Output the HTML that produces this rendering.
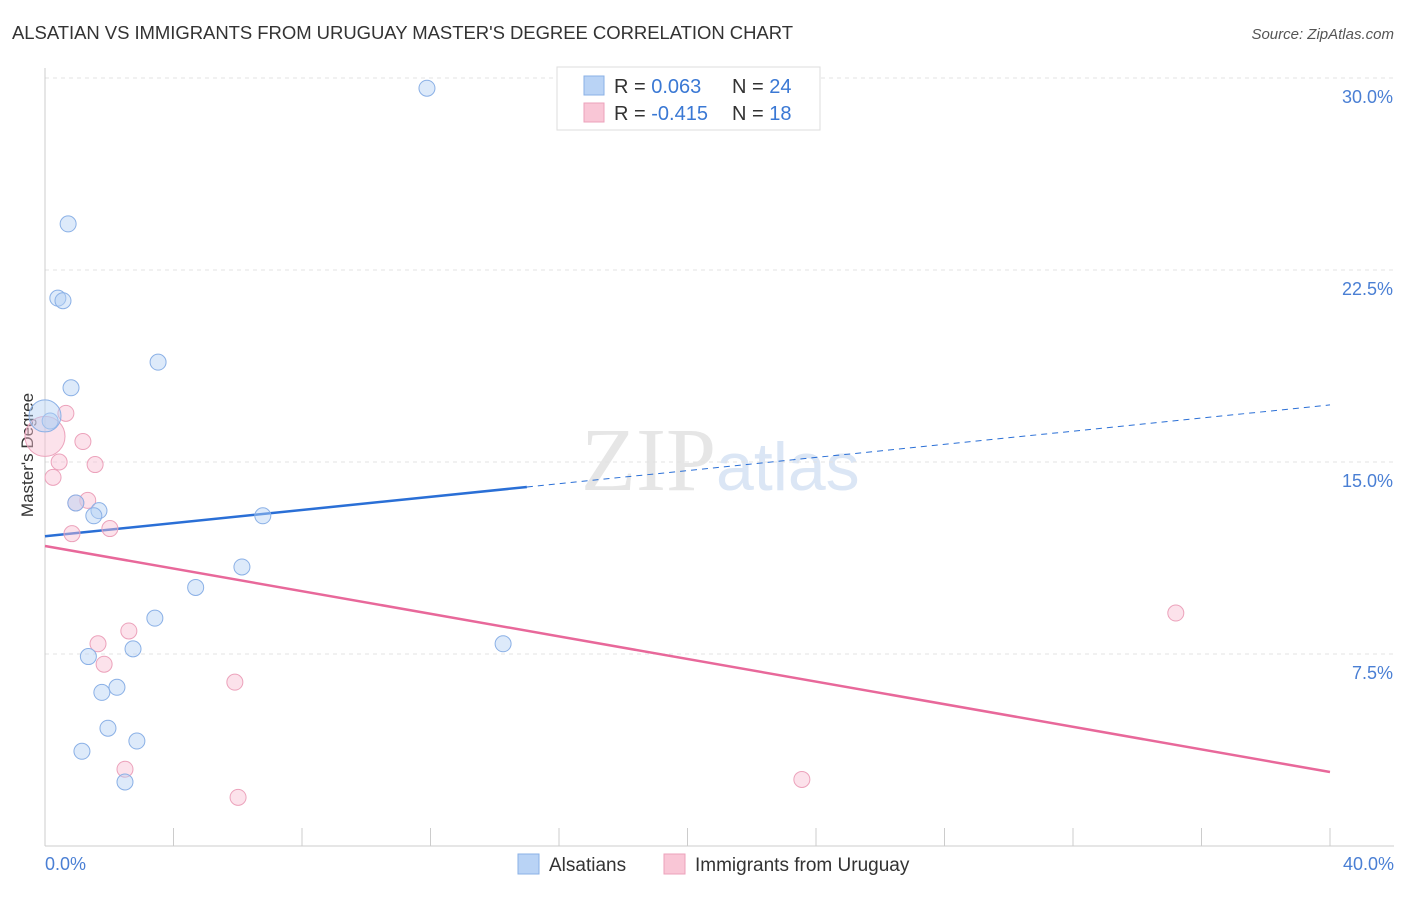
<!DOCTYPE html>
<html><head><meta charset="utf-8"><style>
body{margin:0;background:#fff;font-family:"Liberation Sans",sans-serif}
</style></head><body>
<svg width="1406" height="892" xmlns="http://www.w3.org/2000/svg">
<text x="12" y="39" font-size="18.5" fill="#333" textLength="781">ALSATIAN VS IMMIGRANTS FROM URUGUAY MASTER'S DEGREE CORRELATION CHART</text>
<text x="1394" y="39" font-size="15" fill="#555" text-anchor="end" font-style="italic">Source: ZipAtlas.com</text>
<text x="716" y="490" font-size="90" fill="#e6e6e6" text-anchor="end" font-family="Liberation Serif">ZIP</text>
<text x="716" y="490" font-size="68" fill="#dbe6f5">atlas</text>
<g id="grid"></g>
<line x1="45" y1="68" x2="45" y2="846" stroke="#ccc"/>
<line x1="45" y1="846" x2="1394" y2="846" stroke="#ccc"/>
<text x="33" y="455" font-size="17" fill="#333" text-anchor="middle" transform="rotate(-90 33 455)">Master's Degree</text>
<text x="45" y="870" font-size="18" fill="#4a7fd4">0.0%</text>
<text x="1394" y="870" font-size="18" fill="#4a7fd4" text-anchor="end">40.0%</text>
<g id="lines"></g>
<g id="pts"></g>
<g>
<rect x="557" y="67" width="263" height="63" fill="#fff" stroke="#ddd"/>
<rect x="584" y="76" width="20" height="19" fill="#b9d3f5" stroke="#8ab0e6"/>
<rect x="584" y="103" width="20" height="19" fill="#f9c6d6" stroke="#eca2bb"/>
<text x="614" y="93" font-size="20" fill="#333">R = <tspan fill="#3a78d4">0.063</tspan><tspan x="732">N = </tspan><tspan fill="#3a78d4">24</tspan></text>
<text x="614" y="120" font-size="20" fill="#333">R = <tspan fill="#3a78d4">-0.415</tspan><tspan x="732">N = </tspan><tspan fill="#3a78d4"> 18</tspan></text>
</g>
<g>
<rect x="518" y="854" width="21" height="20" fill="#b9d3f5" stroke="#8ab0e6"/>
<text x="549" y="871" font-size="19" fill="#333">Alsatians</text>
<rect x="664" y="854" width="21" height="20" fill="#f9c6d6" stroke="#eca2bb"/>
<text x="695" y="871" font-size="19" fill="#333">Immigrants from Uruguay</text>
</g>
</svg>
<script>
const yTicks=[7.5,15,22.5,30];
const xTicks=[0,4,8,12,16,20,24,28,32,36,40];
const blueX=[11.89,0.72,0.4,0.56,3.52,0.81,0.16,0.0,0.96,1.68,1.52,6.78,6.13,4.69,3.42,14.26,1.35,2.74,2.24,1.77,1.96,2.86,1.15,2.49];
const blueY=[29.6,24.3,21.4,21.3,18.9,17.9,16.6,16.8,13.4,13.1,12.9,12.9,10.9,10.1,8.9,7.9,7.4,7.7,6.2,6.0,4.6,4.1,3.7,2.5];
const pinkX=[0.0,0.65,1.18,0.44,1.56,0.25,1.33,0.96,0.84,2.02,2.61,1.65,1.84,5.91,35.2,2.49,23.56,6.01];
const pinkY=[16.0,16.9,15.8,15.0,14.9,14.4,13.5,13.4,12.2,12.4,8.4,7.9,7.1,6.4,9.1,3.0,2.6,1.9];
const X=v=>45+v/40*1285, Y=v=>846-v/7.5*192;
const ns="http://www.w3.org/2000/svg";
function mk(t,a,p){const e=document.createElementNS(ns,t);for(const k in a)e.setAttribute(k,a[k]);document.getElementById(p).appendChild(e);return e;}
yTicks.forEach(v=>{
const l=mk('line',{x1:45,x2:1394,y1:Y(v),y2:Y(v),stroke:'#e3e3e3','stroke-dasharray':'4,4'},'grid');


const t=mk('text',{x:1393,y:Y(v)+25,'font-size':18,fill:'#4a7fd4','text-anchor':'end'},'grid');t.textContent=v.toFixed(1)+'%';


});
xTicks.forEach(v=>{
const l=mk('line',{x1:X(v),x2:X(v),y1:828,y2:846,stroke:'#ccc'},'grid');


});
const bl=[12.1,(17.23-12.1)/40];
const pl=[11.72,(2.89-11.72)/40];
let e=mk('line',{x1:X(0),y1:Y(bl[0]),x2:X(15),y2:Y(bl[0]+bl[1]*15),stroke:'#2a6fd6','stroke-width':2.5},'lines');


e=mk('line',{x1:X(15),y1:Y(bl[0]+bl[1]*15),x2:X(40),y2:Y(bl[0]+bl[1]*40),stroke:'#2a6fd6','stroke-width':1,'stroke-dasharray':'6,5'},'lines');


e=mk('line',{x1:X(0),y1:Y(pl[0]),x2:X(40),y2:Y(pl[0]+pl[1]*40),stroke:'#e8689a','stroke-width':2.5},'lines');


pinkX.forEach((x,i)=>{
const c=mk('circle',{cx:X(x),cy:Y(pinkY[i]),r:i==0?20:8,fill:'rgba(248,190,210,0.45)',stroke:'#eca2bb','stroke-width':1},'pts');


});
blueX.forEach((x,i)=>{
const c=mk('circle',{cx:X(x),cy:Y(blueY[i]),r:(i==7)?16:8,fill:'rgba(180,208,245,0.45)',stroke:'#8ab0e6','stroke-width':1},'pts');


});
</script>
</body></html>
